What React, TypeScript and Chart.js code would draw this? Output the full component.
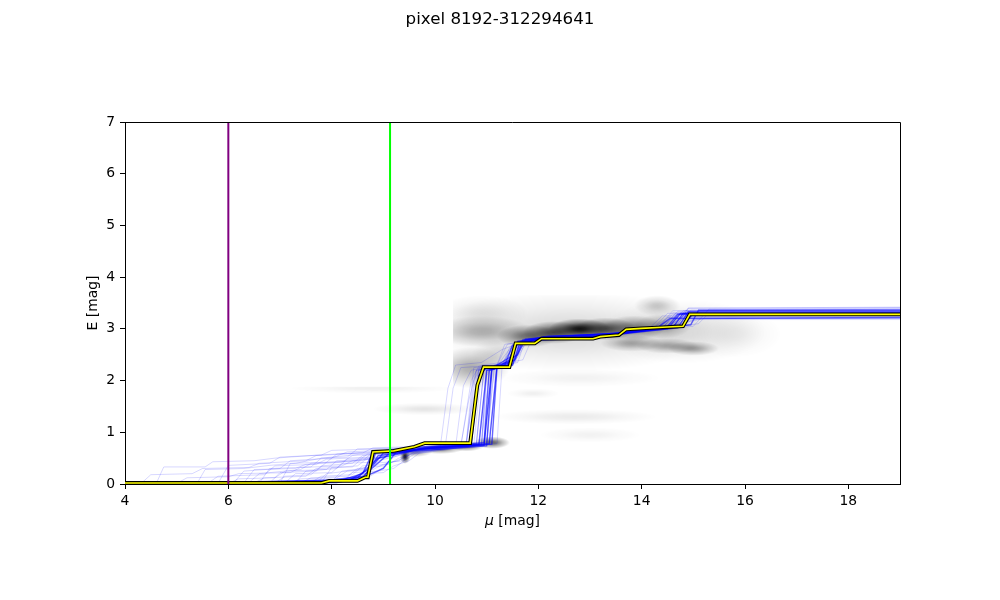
import React, { useEffect, useRef } from "react";
import { Chart, registerables } from "chart.js";

Chart.register(...registerables);

const titleText = "pixel 8192-312294641";
const xTicks = [4, 6, 8, 10, 12, 14, 16, 18];
const yTicks = [0, 1, 2, 3, 4, 5, 6, 7];
const muMin = 4;
const muMax = 19;
const eMin = 0;
const eMax = 7;
const purpleMu = 6.0;
const greenMu = 9.13;

// median reddening profile (yellow)
const medianMu = [4, 7.8, 7.95, 8.5, 8.65, 8.7, 8.8, 9.2, 9.6, 9.8, 10.68, 10.82, 10.94, 11.44, 11.56, 11.93, 12.06, 13.06, 13.2, 13.56, 13.7, 14.0, 14.4, 14.8, 14.93, 19];
const medianE = [0.02, 0.02, 0.06, 0.06, 0.13, 0.13, 0.62, 0.64, 0.72, 0.79, 0.79, 1.91, 2.26, 2.26, 2.72, 2.72, 2.81, 2.81, 2.85, 2.88, 2.99, 3.01, 3.03, 3.05, 3.28, 3.28];

// dense sample profiles near the median
const corePaths: number[][][] = [
  [[4, 0], [7.6, 0.02], [8.0, 0.05], [8.6, 0.1], [8.9, 0.55], [9.3, 0.6], [9.8, 0.7], [10.85, 0.76], [11.0, 2.2], [11.5, 2.3], [11.65, 2.75], [12.0, 2.78], [13.0, 2.82], [13.7, 2.95], [14.6, 3.02], [14.8, 3.3], [19, 3.3]],
  [[4, 0], [8.1, 0.03], [8.5, 0.12], [8.9, 0.5], [9.3, 0.58], [9.7, 0.68], [10.95, 0.75], [11.1, 2.25], [11.55, 2.4], [11.7, 2.78], [12.1, 2.8], [13.1, 2.84], [13.6, 2.9], [14.7, 3.02], [14.9, 3.33], [19, 3.33]],
  [[4, 0.01], [7.9, 0.03], [8.7, 0.15], [8.85, 0.6], [9.5, 0.65], [10.0, 0.72], [11.05, 0.78], [11.2, 2.3], [11.45, 2.45], [11.6, 2.7], [12.0, 2.8], [13.2, 2.86], [13.8, 2.95], [14.5, 3.05], [14.7, 3.28], [19, 3.28]],
  [[4, 0], [8.3, 0.05], [8.75, 0.3], [9.0, 0.6], [9.6, 0.66], [10.7, 0.75], [10.85, 2.1], [11.0, 2.25], [11.4, 2.3], [11.55, 2.72], [12.2, 2.82], [13.3, 2.86], [14.2, 3.0], [14.95, 3.08], [15.1, 3.36], [19, 3.36]],
  [[4, 0], [7.5, 0.02], [8.2, 0.08], [8.6, 0.2], [8.8, 0.62], [9.8, 0.72], [10.95, 0.8], [11.05, 2.2], [11.35, 2.3], [11.5, 2.68], [11.8, 2.75], [12.1, 2.85], [13.5, 2.9], [14.3, 3.02], [14.55, 3.2], [19, 3.22]],
  [[4, 0], [8.5, 0.08], [9.0, 0.3], [9.25, 0.62], [10.0, 0.7], [11.1, 0.77], [11.2, 2.25], [11.6, 2.5], [11.75, 2.8], [12.3, 2.85], [13.6, 2.92], [14.8, 3.05], [15.0, 3.3], [19, 3.3]],
  [[4, 0.02], [6.0, 0.03], [7.0, 0.05], [8.0, 0.08], [8.6, 0.15], [9.1, 0.58], [9.6, 0.64], [10.5, 0.7], [11.0, 0.74], [11.1, 2.2], [11.45, 2.35], [11.6, 2.76], [12.2, 2.86], [13.4, 2.9], [14.5, 3.0], [14.75, 3.3], [19, 3.31]],
];

// scattered sample profiles
const faintPaths: number[][][] = [
  [[4, 0], [4.6, 0], [4.75, 0.33], [5.55, 0.33], [5.7, 0.43], [6.5, 0.45], [6.9, 0.5], [7.6, 0.55], [8.4, 0.6], [9.2, 0.65], [10.1, 0.7], [10.25, 1.85], [10.4, 2.3], [10.9, 2.35], [11.3, 2.6], [11.7, 2.75], [12.5, 2.85], [14.0, 2.95], [14.7, 3.1], [14.9, 3.4], [19, 3.42]],
  [[4, 0], [5.4, 0.02], [5.55, 0.28], [6.3, 0.3], [6.8, 0.36], [7.3, 0.4], [7.8, 0.5], [8.3, 0.55], [9.0, 0.62], [9.6, 0.68], [10.6, 0.74], [10.75, 2.0], [10.9, 2.3], [11.3, 2.35], [11.5, 2.6], [11.9, 2.8], [13.0, 2.85], [14.3, 3.0], [14.6, 3.35], [19, 3.38]],
  [[4, 0], [6.1, 0.02], [6.3, 0.25], [7.0, 0.3], [7.2, 0.45], [8.0, 0.5], [8.3, 0.62], [9.2, 0.66], [10.5, 0.75], [10.65, 1.6], [10.8, 2.2], [11.4, 2.3], [11.55, 2.6], [12.0, 2.78], [13.5, 2.9], [14.5, 3.05], [15.2, 3.2], [19, 3.2]],
  [[4, 0], [6.4, 0.03], [6.6, 0.2], [7.4, 0.28], [7.6, 0.4], [8.5, 0.45], [8.7, 0.58], [9.4, 0.64], [10.8, 0.78], [10.95, 2.25], [11.5, 2.35], [11.7, 2.7], [12.2, 2.85], [13.6, 2.9], [14.1, 3.0], [14.6, 3.1], [14.8, 3.25], [19, 3.25]],
  [[4, 0], [6.9, 0.02], [7.1, 0.15], [7.6, 0.18], [7.8, 0.35], [8.4, 0.4], [8.6, 0.55], [9.3, 0.6], [9.8, 0.7], [11.0, 0.8], [11.15, 2.3], [11.7, 2.4], [11.85, 2.75], [12.4, 2.85], [13.8, 2.95], [15.0, 3.05], [15.3, 3.38], [19, 3.4]],
  [[4, 0], [7.3, 0.03], [7.5, 0.25], [8.1, 0.3], [8.3, 0.48], [8.9, 0.5], [9.1, 0.62], [9.8, 0.7], [10.4, 0.73], [10.55, 1.9], [10.7, 2.2], [11.2, 2.3], [11.4, 2.7], [11.9, 2.78], [13.3, 2.85], [14.2, 2.98], [14.5, 3.3], [19, 3.32]],
  [[4, 0], [5.0, 0.01], [5.2, 0.12], [6.0, 0.14], [6.2, 0.2], [7.2, 0.22], [7.4, 0.32], [8.2, 0.35], [8.4, 0.45], [9.0, 0.5], [9.2, 0.6], [10.2, 0.7], [10.9, 0.75], [11.05, 2.2], [11.4, 2.25], [11.6, 2.75], [12.6, 2.85], [14.0, 2.95], [14.8, 3.1], [15.0, 3.18], [19, 3.18]],
  [[4, 0], [7.7, 0.02], [7.9, 0.2], [8.7, 0.3], [8.9, 0.45], [9.3, 0.55], [9.6, 0.65], [10.7, 0.77], [10.85, 2.2], [11.2, 2.28], [11.45, 2.62], [11.75, 2.78], [13.0, 2.87], [13.9, 2.96], [14.4, 3.02], [14.7, 3.34], [19, 3.35]],
  [[4, 0], [8.0, 0.05], [8.2, 0.25], [8.6, 0.3], [8.8, 0.4], [9.4, 0.45], [9.5, 0.58], [10.3, 0.7], [11.2, 0.78], [11.3, 2.3], [11.6, 2.45], [11.8, 2.8], [12.4, 2.86], [13.7, 2.92], [14.4, 3.0], [15.1, 3.1], [15.3, 3.3], [19, 3.3]],
  [[4, 0], [6.6, 0.02], [6.8, 0.3], [7.6, 0.33], [7.8, 0.5], [8.3, 0.52], [8.5, 0.68], [9.5, 0.7], [10.6, 0.76], [10.75, 2.25], [11.3, 2.3], [11.5, 2.65], [11.8, 2.8], [13.2, 2.88], [14.0, 3.0], [14.6, 3.05], [14.85, 3.3], [19, 3.3]],
  [[4, 0], [5.8, 0.01], [6.0, 0.36], [6.8, 0.4], [7.0, 0.52], [7.8, 0.56], [8.0, 0.65], [9.0, 0.68], [9.6, 0.7], [10.4, 0.74], [10.9, 0.78], [11.0, 2.1], [11.15, 2.3], [11.55, 2.4], [11.7, 2.8], [12.3, 2.85], [13.5, 2.9], [14.7, 3.05], [14.95, 3.36], [19, 3.37]],
  [[4, 0], [7.0, 0.02], [7.2, 0.4], [7.9, 0.42], [8.1, 0.58], [8.6, 0.6], [8.8, 0.7], [9.5, 0.72], [10.2, 0.74], [10.35, 1.85], [10.5, 2.25], [11.2, 2.3], [11.35, 2.7], [12.0, 2.8], [13.4, 2.88], [14.1, 2.97], [14.4, 3.25], [19, 3.26]],
  [[4, 0], [6.5, 0.02], [6.7, 0.12], [7.5, 0.15], [7.7, 0.3], [8.4, 0.33], [8.6, 0.5], [9.2, 0.55], [9.4, 0.65], [10.6, 0.75], [10.8, 2.2], [11.4, 2.3], [11.6, 2.72], [12.1, 2.82], [13.4, 2.88], [14.3, 3.0], [14.6, 3.28], [19, 3.29]],
  [[4, 0], [7.1, 0.03], [7.3, 0.2], [8.0, 0.22], [8.2, 0.4], [8.8, 0.42], [9.0, 0.55], [9.4, 0.6], [10.3, 0.7], [10.95, 0.77], [11.1, 2.25], [11.5, 2.3], [11.7, 2.75], [12.2, 2.83], [13.6, 2.9], [14.7, 3.04], [14.9, 3.3], [19, 3.31]],
  [[4, 0], [7.8, 0.02], [8.0, 0.32], [8.5, 0.35], [8.7, 0.5], [9.1, 0.52], [9.3, 0.63], [10.4, 0.72], [10.85, 0.76], [11.0, 2.2], [11.5, 2.28], [11.65, 2.72], [12.1, 2.8], [13.3, 2.86], [14.4, 3.02], [14.7, 3.3], [19, 3.3]],
  [[4, 0], [6.0, 0.01], [6.2, 0.1], [6.9, 0.12], [7.1, 0.25], [7.9, 0.28], [8.1, 0.45], [8.9, 0.48], [9.1, 0.6], [9.9, 0.68], [10.75, 0.75], [10.9, 2.2], [11.4, 2.26], [11.55, 2.7], [12.0, 2.8], [13.2, 2.85], [14.0, 2.97], [14.5, 3.04], [14.75, 3.27], [19, 3.27]],
  [[4, 0], [8.2, 0.03], [8.4, 0.22], [8.9, 0.25], [9.1, 0.4], [9.4, 0.5], [9.6, 0.62], [10.5, 0.72], [11.0, 0.78], [11.15, 2.25], [11.6, 2.35], [11.75, 2.78], [12.3, 2.84], [13.7, 2.92], [14.6, 3.03], [14.85, 3.32], [19, 3.34]],
  [[4, 0], [7.4, 0.02], [7.6, 0.12], [8.3, 0.15], [8.5, 0.3], [9.0, 0.35], [9.2, 0.52], [9.5, 0.62], [10.6, 0.74], [10.7, 1.4], [10.85, 2.25], [11.3, 2.3], [11.45, 2.65], [11.9, 2.78], [13.1, 2.85], [14.2, 2.99], [14.5, 3.22], [19, 3.22]],
  [[4, 0], [6.8, 0.02], [7.0, 0.22], [7.7, 0.25], [7.9, 0.42], [8.6, 0.45], [8.8, 0.62], [9.6, 0.66], [10.5, 0.73], [10.7, 2.0], [10.85, 2.28], [11.4, 2.33], [11.6, 2.75], [12.2, 2.84], [13.5, 2.9], [14.1, 3.0], [14.7, 3.08], [14.9, 3.4], [19, 3.41]],
  [[4, 0], [4.3, 0], [4.5, 0.18], [5.3, 0.2], [5.5, 0.3], [6.4, 0.32], [6.6, 0.4], [7.5, 0.45], [7.7, 0.55], [8.6, 0.6], [9.2, 0.64], [10.0, 0.7], [10.9, 0.77], [11.0, 2.15], [11.2, 2.3], [11.5, 2.4], [11.65, 2.77], [12.2, 2.83], [13.6, 2.9], [14.6, 3.05], [14.8, 3.2], [19, 3.2]],
  [[4, 0], [7.2, 0.02], [7.4, 0.1], [8.1, 0.12], [8.3, 0.25], [8.8, 0.28], [9.0, 0.38], [9.3, 0.45], [9.5, 0.6], [10.4, 0.7], [10.9, 0.76], [11.0, 2.2], [11.4, 2.28], [11.55, 2.72], [12.1, 2.82], [13.3, 2.87], [14.3, 3.0], [14.7, 3.29], [19, 3.3]],
  [[4, 0], [7.6, 0.03], [7.8, 0.15], [8.4, 0.18], [8.6, 0.35], [9.1, 0.38], [9.3, 0.5], [9.7, 0.62], [10.7, 0.74], [10.85, 2.2], [11.3, 2.27], [11.5, 2.7], [12.0, 2.8], [13.4, 2.88], [14.3, 3.01], [14.6, 3.31], [19, 3.32]],
  [[4, 0], [6.3, 0.02], [6.5, 0.28], [7.3, 0.3], [7.5, 0.38], [8.2, 0.42], [8.4, 0.55], [9.2, 0.6], [9.8, 0.68], [10.8, 0.76], [10.95, 2.25], [11.45, 2.3], [11.6, 2.75], [12.2, 2.84], [13.5, 2.9], [14.6, 3.04], [14.85, 3.36], [19, 3.38]],
  [[4, 0], [5.6, 0.01], [5.8, 0.15], [6.7, 0.18], [6.9, 0.35], [7.7, 0.38], [7.9, 0.48], [8.7, 0.52], [8.9, 0.62], [9.8, 0.68], [10.8, 0.77], [10.95, 2.22], [11.5, 2.32], [11.65, 2.76], [12.3, 2.85], [13.7, 2.93], [14.5, 3.03], [14.8, 3.24], [19, 3.24]],
  [[4, 0], [8.4, 0.05], [8.6, 0.2], [9.0, 0.22], [9.2, 0.35], [9.5, 0.45], [9.7, 0.6], [10.6, 0.72], [11.05, 0.78], [11.2, 2.28], [11.55, 2.35], [11.7, 2.76], [12.3, 2.84], [13.6, 2.91], [14.5, 3.02], [14.8, 3.35], [19, 3.36]],
  [[4, 0], [7.9, 0.02], [8.1, 0.1], [8.7, 0.12], [8.9, 0.25], [9.2, 0.3], [9.4, 0.45], [9.6, 0.58], [10.5, 0.7], [10.95, 0.76], [11.1, 2.22], [11.5, 2.3], [11.65, 2.74], [12.1, 2.82], [13.3, 2.87], [14.4, 3.01], [14.65, 3.3], [19, 3.3]],
];

// density cloud blobs: [mu, E, halfWidthMu, halfHeightE, opacity]
const upperCloud: number[][] = [
  [12.6, 2.95, 2.8, 0.78, 0.15],
  [14.8, 2.95, 1.6, 0.62, 0.12],
  [15.8, 2.9, 0.9, 0.45, 0.06],
  [10.9, 2.95, 1.0, 0.3, 0.28],
  [10.9, 3.3, 0.9, 0.35, 0.1],
  [10.7, 2.25, 0.75, 0.4, 0.32],
  [11.2, 2.5, 0.5, 0.3, 0.12],
  [11.8, 2.86, 0.6, 0.22, 0.5],
  [12.3, 2.93, 0.6, 0.22, 0.65],
  [12.8, 3.0, 0.6, 0.2, 0.9],
  [13.3, 3.0, 0.6, 0.22, 0.65],
  [13.85, 3.02, 0.6, 0.24, 0.45],
  [14.4, 3.05, 0.55, 0.24, 0.3],
  [14.3, 3.45, 0.45, 0.2, 0.2],
  [13.8, 2.72, 0.6, 0.16, 0.3],
  [14.5, 2.67, 0.6, 0.15, 0.3],
  [15.0, 2.62, 0.5, 0.14, 0.35],
  [12.8, 2.05, 1.6, 0.18, 0.05],
];
const lowerCloud: number[][] = [
  [9.42, 0.53, 0.1, 0.14, 0.9],
  [9.6, 0.62, 0.35, 0.1, 0.4],
  [10.1, 0.68, 0.45, 0.1, 0.5],
  [10.6, 0.73, 0.35, 0.1, 0.55],
  [11.1, 0.8, 0.35, 0.12, 0.6],
  [8.8, 1.85, 1.6, 0.1, 0.06],
  [9.8, 1.45, 1.0, 0.12, 0.1],
  [12.7, 1.3, 1.6, 0.15, 0.08],
  [11.9, 1.75, 0.5, 0.1, 0.06],
  [13.0, 0.95, 1.0, 0.15, 0.05],
];
const cutMu = 10.35;
const cutTopE = 3.65;
const cutLowE = 1.88;

const FONT = "'DejaVu Sans', sans-serif";

function toXY(path: number[][]) {
  return path.map(([x, y]) => ({ x, y }));
}

const gaussStops = [[0, 1], [0.2, 0.906], [0.4, 0.674], [0.6, 0.411], [0.8, 0.206], [0.9, 0.1], [1, 0]];

function drawCloud(ctx: CanvasRenderingContext2D, xs: any, ys: any, blobs: number[][], box: number[]) {
  ctx.save();
  const l = xs.getPixelForValue(box[0]);
  const r = xs.getPixelForValue(box[1]);
  const b = ys.getPixelForValue(box[2]);
  const t = ys.getPixelForValue(box[3]);
  ctx.beginPath();
  ctx.rect(l, t, r - l, b - t);
  ctx.clip();
  for (const [mx, me, rx, re, a] of blobs) {
    const cx = xs.getPixelForValue(mx);
    const cy = ys.getPixelForValue(me);
    const px = Math.abs(xs.getPixelForValue(mx + rx) - cx);
    const py = Math.abs(ys.getPixelForValue(me + re) - cy);
    ctx.save();
    ctx.translate(cx, cy);
    ctx.scale(px, py);
    const g = ctx.createRadialGradient(0, 0, 0, 0, 0, 1);
    for (const [s, f] of gaussStops) g.addColorStop(s, `rgba(0,0,0,${(a * f).toFixed(4)})`);
    ctx.fillStyle = g;
    ctx.fillRect(-1, -1, 2, 2);
    ctx.restore();
  }
  ctx.restore();
}

const densityPlugin = {
  id: "density",
  beforeDatasetsDraw(chart: any) {
    const { ctx, chartArea, scales } = chart;
    ctx.save();
    ctx.beginPath();
    ctx.rect(chartArea.left, chartArea.top, chartArea.right - chartArea.left, chartArea.bottom - chartArea.top);
    ctx.clip();
    drawCloud(ctx, scales.x, scales.y, lowerCloud, [muMin, muMax, eMin, cutLowE]);
    drawCloud(ctx, scales.x, scales.y, upperCloud, [cutMu, muMax, eMin, cutTopE]);
    ctx.restore();
  },
};

const framePlugin = {
  id: "frame",
  afterDraw(chart: any) {
    const { ctx, chartArea, width } = chart;
    ctx.save();
    ctx.strokeStyle = "#000";
    ctx.lineWidth = 1;
    ctx.beginPath();
    ctx.moveTo(chartArea.left, chartArea.top + 0.5);
    ctx.lineTo(chartArea.right + 0.5, chartArea.top + 0.5);
    ctx.lineTo(chartArea.right + 0.5, chartArea.bottom);
    ctx.stroke();
    ctx.fillStyle = "#000";
    ctx.textBaseline = "middle";
    // figure title
    ctx.textAlign = "center";
    ctx.font = `16.7px ${FONT}`;
    ctx.fillText(titleText, width / 2, 20);
    // x-axis title with italic mu
    const cx = (chartArea.left + chartArea.right) / 2;
    const cy = 521;
    const size = 13.9;
    ctx.textAlign = "left";
    ctx.font = `italic ${size}px ${FONT}`;
    const mu = "\u03bc";
    const w1 = ctx.measureText(mu).width;
    ctx.font = `${size}px ${FONT}`;
    const rest = " [mag]";
    const w2 = ctx.measureText(rest).width;
    const x0 = cx - (w1 + w2) / 2;
    ctx.font = `italic ${size}px ${FONT}`;
    ctx.fillText(mu, x0, cy);
    ctx.font = `${size}px ${FONT}`;
    ctx.fillText(rest, x0 + w1, cy);
    ctx.restore();
  },
};

export default function App() {
  const ref = useRef<HTMLCanvasElement>(null);
  useEffect(() => {
    if (!ref.current) return;
    const datasets: any[] = [];
    datasets.push({
      data: [{ x: purpleMu, y: eMin }, { x: purpleMu, y: eMax }],
      borderColor: "#800080",
      borderWidth: 2,
      order: 0,
    });
    datasets.push({
      data: [{ x: greenMu, y: eMin }, { x: greenMu, y: eMax }],
      borderColor: "#00ff00",
      borderWidth: 2,
      order: 0,
    });
    const med = medianMu.map((x, i) => ({ x, y: medianE[i] }));
    datasets.push({ data: med, borderColor: "#ffff00", borderWidth: 1.6, order: 1 });
    datasets.push({ data: med, borderColor: "#000000", borderWidth: 3.8, order: 2 });
    corePaths.forEach((p) =>
      datasets.push({ data: toXY(p), borderColor: "rgba(0,0,255,0.6)", borderWidth: 1.4, order: 3 })
    );
    faintPaths.forEach((p) =>
      datasets.push({ data: toXY(p), borderColor: "rgba(0,0,255,0.2)", borderWidth: 0.8, order: 4 })
    );
    datasets.forEach((d) => {
      d.pointRadius = 0;
      d.fill = false;
      d.tension = 0;
      d.borderJoinStyle = "miter";
    });

    const tickFont = { family: FONT, size: 13.9 };
    const chart = new Chart(ref.current, {
      type: "line",
      data: { datasets },
      plugins: [densityPlugin, framePlugin],
      options: {
        animation: false,
        responsive: false,
        devicePixelRatio: 1,
        layout: { padding: { left: 0, right: 100, top: 122, bottom: 0 } },
        plugins: {
          legend: { display: false },
          tooltip: { enabled: false },
          title: { display: false },
        },
        scales: {
          x: {
            type: "linear",
            min: muMin,
            max: muMax,
            afterFit: (s: any) => {
              s.height = 116;
            },
            afterBuildTicks: (s: any) => {
              s.ticks = xTicks.map((v) => ({ value: v }));
            },
            ticks: { color: "#000", font: tickFont, padding: 4, maxRotation: 0, callback: (v: any) => String(v) },
            grid: { display: true, drawOnChartArea: false, drawTicks: true, tickLength: 5, color: "#000", lineWidth: 1 },
            border: { display: true, color: "#000", width: 1 },
          },
          y: {
            type: "linear",
            min: eMin,
            max: eMax,
            afterFit: (s: any) => {
              s.width = 125;
            },
            afterBuildTicks: (s: any) => {
              s.ticks = yTicks.map((v) => ({ value: v }));
            },
            ticks: { color: "#000", font: tickFont, padding: 5, callback: (v: any) => String(v) },
            grid: { display: true, drawOnChartArea: false, drawTicks: true, tickLength: 5, color: "#000", lineWidth: 1 },
            border: { display: true, color: "#000", width: 1 },
            title: {
              display: true,
              text: "E [mag]",
              color: "#000",
              font: { family: FONT, size: 13.9, lineHeight: 1.2 },
              padding: { top: 84.7, bottom: 0 },
            },
          },
        },
      } as any,
    });
    return () => chart.destroy();
  }, []);

  return (
    <div style={{ position: "fixed", left: 0, top: 0, width: 1000, height: 600, background: "#fff" }}>
      <canvas ref={ref} width={1000} height={600} style={{ width: 1000, height: 600, display: "block" }} />
    </div>
  );
}
